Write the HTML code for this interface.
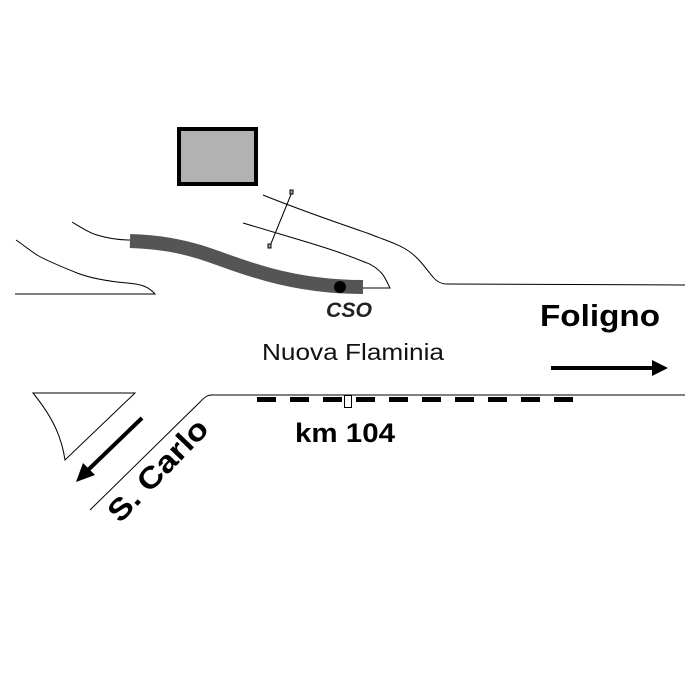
<!DOCTYPE html>
<html><head><style>body{margin:0;background:#fff}svg{display:block}</style></head>
<body>
<svg width="700" height="700" viewBox="0 0 700 700" xmlns="http://www.w3.org/2000/svg">
<rect width="700" height="700" fill="#fff"/>
<rect x="179" y="129" width="77" height="55" fill="#b2b2b2" stroke="#000" stroke-width="4"/>
<g fill="none" stroke="#000" stroke-width="1">
<path d="M15,294 L155,294 C148,286 140,284 127,283 C105,281 90,278 77,273 C60,266 45,260 37,255 C28,249 22,244 16,240"/>
<path d="M72,222 C82,228 90,233 97,235 C110,239 120,240 130,240"/>
<path d="M363,288 L390,288 C386,280 384,274 376,268 C370,264 368,263 367,263 C340,252 320,246 300,240 C280,234 260,228 243,223"/>
<path d="M263,195 C300,210 335,222 367,233 C385,240 398,244 407,250 C420,258 428,272 433,277 C437,282 442,284 447,284 L685,285"/>
<path d="M292,192 L270,246"/>
<path d="M685,395 L212,395 C207,395 205,397 200,402 L90,510"/>
<path d="M33,393 L135,393 L65,460 C62,440 55,420 33,393 Z"/>
</g>
<rect x="290" y="190" width="3" height="4" fill="#aaa" stroke="#000" stroke-width="1"/>
<rect x="268" y="244" width="3" height="4" fill="#aaa" stroke="#000" stroke-width="1"/>
<path d="M130,241 C160,242 180,246 200,252 C225,260 240,267 270,275 C300,283 330,287 363,287" fill="none" stroke="#555" stroke-width="14"/>
<circle cx="340" cy="287" r="6" fill="#000"/>
<g fill="#000">
<rect x="257" y="397" width="19" height="5"/><rect x="290" y="397" width="19" height="5"/>
<rect x="323" y="397" width="19" height="5"/><rect x="356" y="397" width="19" height="5"/>
<rect x="389" y="397" width="19" height="5"/><rect x="422" y="397" width="19" height="5"/>
<rect x="455" y="397" width="19" height="5"/><rect x="488" y="397" width="19" height="5"/>
<rect x="521" y="397" width="19" height="5"/><rect x="554" y="397" width="19" height="5"/>
</g>
<rect x="344.5" y="395.5" width="7" height="12" fill="#fff" stroke="#000" stroke-width="1"/>
<line x1="551" y1="368" x2="655" y2="368" stroke="#000" stroke-width="4"/>
<polygon points="668,368 652,360 652,376" fill="#000"/>
<line x1="142" y1="418" x2="86" y2="472" stroke="#000" stroke-width="4"/>
<polygon points="76,482 83,463 95,475" fill="#000"/>
<g font-family="Liberation Sans, sans-serif" fill="#000">
<text x="326" y="317" font-size="21" font-style="italic" font-weight="bold" fill="#222" textLength="46" lengthAdjust="spacingAndGlyphs">CSO</text>
<text x="540" y="326" font-size="31" font-weight="bold" textLength="120" lengthAdjust="spacingAndGlyphs">Foligno</text>
<text x="262" y="360" font-size="23" fill="#111" textLength="182" lengthAdjust="spacingAndGlyphs">Nuova Flaminia</text>
<text x="295" y="442" font-size="27" font-weight="bold" textLength="100" lengthAdjust="spacingAndGlyphs">km 104</text>
<text x="0" y="0" font-size="30" font-weight="bold" transform="translate(120,524) rotate(-46)" textLength="130" lengthAdjust="spacingAndGlyphs">S. Carlo</text>
</g>
</svg>
</body></html>
